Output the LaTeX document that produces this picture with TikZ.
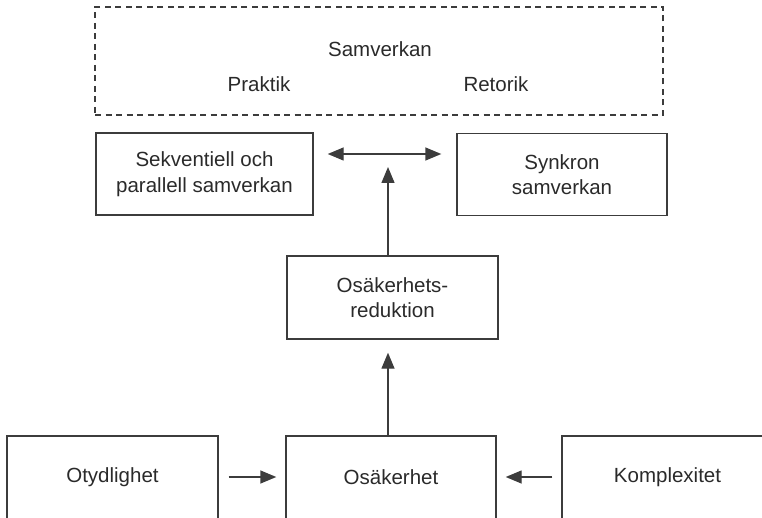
\documentclass[tikz,border=0pt]{standalone}
\usepackage{fontspec}
\setmainfont{Liberation Sans}
\usetikzlibrary{arrows.meta}
\definecolor{linec}{HTML}{3C3C3C}
\definecolor{textc}{HTML}{2A2A2A}
\begin{document}
\begin{tikzpicture}[x=1pt,y=-1pt,
  every node/.style={text=textc, font=\fontsize{20.5}{25.5}\selectfont, align=center, inner sep=0pt},
  box/.style={draw=linec, line width=1.4pt, rectangle},
  dbox/.style={draw=linec, line width=1.2pt, rectangle, dash pattern=on 6pt off 4.5pt},
  arr/.style={draw=linec, line width=1.4pt, -{Triangle[length=16pt,width=13pt]}},
  darr/.style={draw=linec, line width=1.4pt, {Triangle[length=16pt,width=13pt]}-{Triangle[length=16pt,width=13pt]}}
]
\useasboundingbox (0,0) rectangle (762,518);
% top dashed box
\node[dbox, minimum width=568pt, minimum height=108pt] (sam) at (379,61) {};
\node (samt) at (380,49) {Samverkan};
\node (prak) at (259,84) {Praktik};
\node (ret) at (496,84) {Retorik};
% second row
\node[box, minimum width=217pt, minimum height=82pt] (sek) at (204.5,174) {Sekventiell och\\parallell samverkan};
\node[box, minimum width=210pt, minimum height=82pt] (syn) at (562,174.5) {Synkron\\samverkan};
% reduction
\node[box, minimum width=211pt, minimum height=83pt] (red) at (392.5,297.5) {Osäkerhets-\\reduktion};
% bottom row
\node[box, minimum width=211pt, minimum height=86pt] (oty) at (112.5,479) {};
\node (otyt) at (112.5,477) {Otydlighet};
\node[box, minimum width=210pt, minimum height=86pt] (osa) at (391,479) {};
\node (osat) at (391,477) {Osäkerhet};
\node[box, minimum width=211pt, minimum height=86pt] (kom) at (667.5,479) {};
\node (komt) at (667.5,477) {Komplexitet};
% connectors
\draw[darr, shorten <=14pt, shorten >=15pt] ([yshift=20pt]sek.east) -- ([yshift=20.5pt]syn.west);
\coordinate (mid) at ([yshift=20pt]sek.east);
\draw[arr, shorten >=13pt] ([xshift=-4.5pt]red.north) -- ([xshift=-4.5pt]red.north |- mid);
\draw[arr, shorten >=13pt] ([xshift=-3pt]osa.north) -- ([xshift=-3pt]osa.north |- red.south);
\draw[arr, shorten <=10pt, shorten >=9pt] ([yshift=2pt]oty.east) -- ([yshift=2pt]osa.west);
\draw[arr, shorten <=9pt, shorten >=9pt] ([yshift=2pt]kom.west) -- ([yshift=2pt]osa.east);
\end{tikzpicture}
\end{document}
